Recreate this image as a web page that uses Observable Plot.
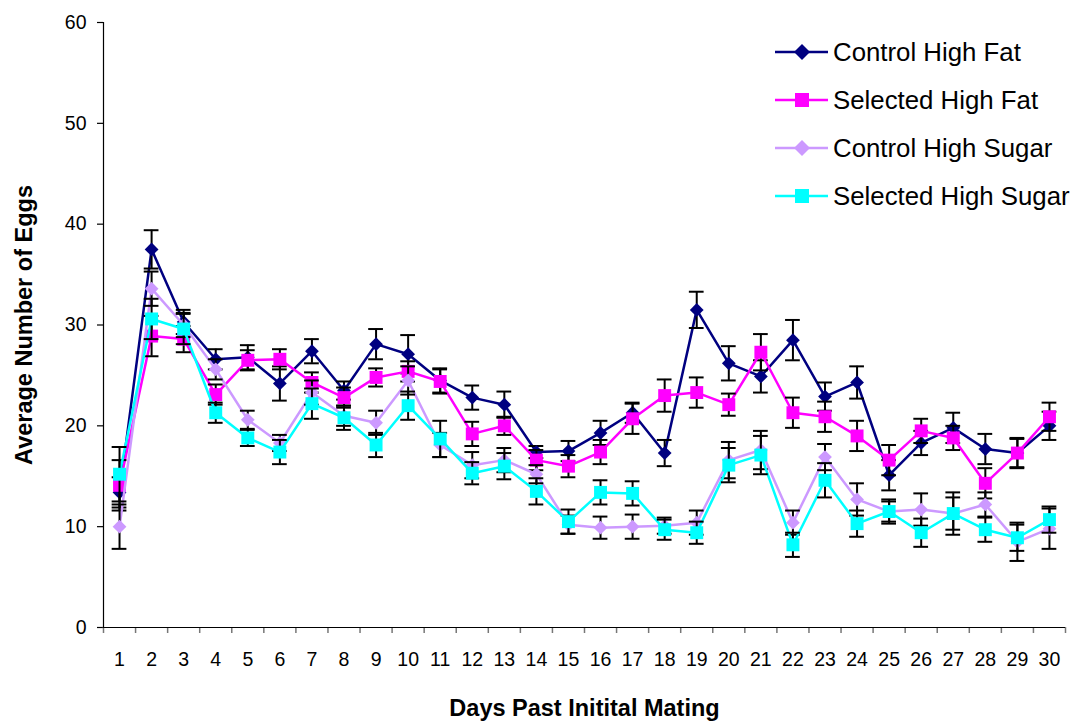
<!DOCTYPE html>
<html>
<head>
<meta charset="utf-8">
<script src="https://cdn.jsdelivr.net/npm/d3@7"></script>
<script src="https://cdn.jsdelivr.net/npm/@observablehq/plot@0.6"></script>
<style>
  html, body { margin: 0; padding: 0; background: #fff; }
  #wrap { position: relative; width: 1079px; height: 722px; font-family: "Liberation Sans", Arial, sans-serif; }
  #legend { position: absolute; left: 775px; top: 37px; }
  .lrow { position: absolute; left: 0; height: 30px; width: 310px; }
  .lrow svg { position: absolute; left: 0; top: 0; }
  .lrow span { position: absolute; left: 58px; top: 0px; line-height: 30px; font-size: 25.8px; color: #000; white-space: nowrap; }
</style>
</head>
<body>
<div id="wrap"><div id="legend"></div></div>
<script>
const days = [1,2,3,4,5,6,7,8,9,10,11,12,13,14,15,16,17,18,19,20,21,22,23,24,25,26,27,28,29,30];
const yTicks = [0,10,20,30,40,50,60];

const seriesNames = ["Control High Fat", "Selected High Fat", "Control High Sugar", "Selected High Sugar"];
const seriesColors = ["#000080", "#FF00FF", "#CC99FF", "#00FFFF"];
const seriesSymbols = ["diamond2", "square", "diamond2", "square"];

const controlHighFat = [13.4,37.5,30.3,26.6,26.8,24.2,27.4,23.5,28.1,27.1,24.5,22.8,22.1,17.4,17.5,19.3,21.3,17.3,31.5,26.2,24.9,28.5,22.9,24.3,15.1,18.3,19.8,17.7,17.3,20.0];
const controlHighFatErr = [1.5,1.9,1.2,1.0,1.2,1.7,1.2,0.9,1.5,1.9,1.2,1.2,1.3,0.6,1.0,1.2,1.0,1.3,1.8,1.7,1.6,2.0,1.4,1.6,1.5,1.2,1.5,1.5,1.4,1.4];

const selectedHighFat = [14.1,28.9,28.6,23.1,26.5,26.6,24.3,22.8,24.8,25.4,24.4,19.2,20.0,16.6,16.0,17.4,20.7,23.0,23.3,22.1,27.3,21.3,20.9,19.0,16.6,19.5,18.8,14.3,17.3,20.9];
const selectedHighFatErr = [2.5,2.0,1.3,1.0,1.0,1.0,1.0,1.0,0.9,1.0,1.2,1.2,0.9,1.0,1.1,1.2,1.5,1.6,1.5,1.1,1.8,1.5,1.5,1.5,1.5,1.2,1.2,1.5,1.5,1.4];

const controlHighSugar = [10.0,33.6,30.0,25.6,20.6,18.3,23.3,21.0,20.3,24.5,18.1,16.1,16.6,15.2,10.2,9.9,10.0,10.1,10.4,16.6,17.6,10.4,16.9,12.7,11.5,11.7,11.3,12.2,8.5,9.8];
const controlHighSugarErr = [2.2,1.7,1.2,1.0,0.9,0.8,1.2,1.0,1.2,1.4,1.2,1.3,1.2,0.9,0.9,1.1,1.2,0.8,1.2,1.8,1.9,1.2,1.3,1.6,1.0,1.6,1.6,1.2,1.9,2.0];

const selectedHighSugar = [15.2,30.6,29.6,21.3,18.8,17.4,22.2,20.8,18.1,22.0,18.7,15.3,16.0,13.5,10.5,13.4,13.3,9.7,9.4,16.1,17.1,8.2,14.6,10.3,11.5,9.4,11.3,9.7,8.9,10.7];
const selectedHighSugarErr = [2.7,2.0,1.5,1.0,0.8,1.2,1.5,1.2,1.2,1.4,1.8,1.1,1.3,1.3,1.2,1.2,1.2,1.0,1.1,1.7,1.9,1.2,1.7,1.3,1.2,1.4,2.1,1.2,1.3,1.3];

const seriesValues = [controlHighFat, selectedHighFat, controlHighSugar, selectedHighSugar];
const seriesErrs = [controlHighFatErr, selectedHighFatErr, controlHighSugarErr, selectedHighSugarErr];

const tables = seriesValues.map((vals, s) =>
  days.map((d, i) => ({day: d, v: vals[i], e: seriesErrs[s][i], series: seriesNames[s]}))
);

const boundaries = days.map(d => d - 0.5).concat([days[days.length - 1] + 0.5]);

const seriesMarks = tables.flatMap((t, s) => [
  Plot.line(t, {x: "day", y: "v", stroke: seriesColors[s], strokeWidth: 2.5}),
  Plot.ruleX(t, {x: "day", y1: d => d.v - d.e, y2: d => d.v + d.e, stroke: "#000", strokeWidth: 2}),
  Plot.ruleY(t, {y: d => d.v + d.e, x1: d => d.day - 0.23, x2: d => d.day + 0.23, stroke: "#000", strokeWidth: 2}),
  Plot.ruleY(t, {y: d => d.v - d.e, x1: d => d.day - 0.23, x2: d => d.day + 0.23, stroke: "#000", strokeWidth: 2}),
  Plot.dot(t, {x: "day", y: "v", symbol: seriesSymbols[s], fill: seriesColors[s], stroke: "none",
               r: seriesSymbols[s] === "square" ? 7.3 : 6.2})
]);

const chart = Plot.plot({
  width: 1079,
  height: 722,
  marginLeft: 103,
  marginRight: 14,
  marginTop: 22,
  marginBottom: 95,
  style: {fontFamily: "'Liberation Sans', Arial, sans-serif", fontSize: "19.5px", background: "#fff", color: "#000"},
  x: {type: "linear", domain: [0.5, 30.5]},
  y: {domain: [0, 60]},
  marks: [
    Plot.axisY({ticks: yTicks, tickSize: 6, tickPadding: 11, label: null, stroke: "#000", strokeWidth: 1.2, fontSize: 19.5}),
    Plot.axisX({ticks: boundaries, tickSize: 6, tickFormat: () => "", label: null, stroke: "#777", strokeWidth: 1.5}),
    Plot.axisX({ticks: days, tickSize: 0, tickPadding: 25, label: null, tickFormat: d => String(d), fontSize: 19.5}),
    Plot.ruleX([0.5], {stroke: "#000", strokeWidth: 1.2}),
    Plot.ruleY([0], {stroke: "#000", strokeWidth: 1.2}),
    Plot.text(["Average Number of Eggs"], {frameAnchor: "left", rotate: -90, dx: -79, textAnchor: "middle", lineAnchor: "middle", fontWeight: "bold", fontSize: 23.5}),
    Plot.text(["Days Past Initital Mating"], {frameAnchor: "bottom", dy: 81, textAnchor: "middle", lineAnchor: "middle", fontWeight: "bold", fontSize: 23.5}),
    ...seriesMarks
  ]
});
document.getElementById("wrap").prepend(chart);

// Legend
const legend = document.getElementById("legend");
seriesNames.forEach((name, s) => {
  const row = document.createElement("div");
  row.className = "lrow";
  row.style.top = (s * 48) + "px";
  const sym = seriesSymbols[s] === "square"
    ? `<rect x="20" y="8" width="14" height="14" fill="${seriesColors[s]}"/>`
    : `<polygon points="27,7 35,15 27,23 19,15" fill="${seriesColors[s]}"/>`;
  row.innerHTML = `<svg width="56" height="30"><line x1="0" x2="53" y1="15" y2="15" stroke="${seriesColors[s]}" stroke-width="2.5"/>${sym}</svg><span>${name}</span>`;
  legend.appendChild(row);
});
</script>
</body>
</html>
